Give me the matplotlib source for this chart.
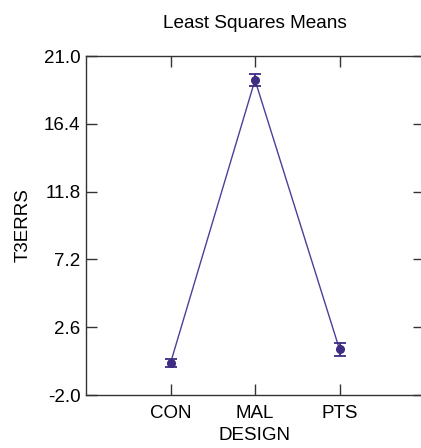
import matplotlib
matplotlib.use("Agg")
import matplotlib.pyplot as plt

categories = ["CON", "MAL", "PTS"]
means = [0.17, 19.37, 1.1]
errors = [0.3, 0.4, 0.43]
yticks = [-2.0, 2.6, 7.2, 11.8, 16.4, 21.0]

plt.rcParams['font.family'] = ['Liberation Sans', 'DejaVu Sans']
fig = plt.figure(figsize=(4.21, 4.48), dpi=100)
ax = fig.add_axes([86/421, 1 - 395/448, (424-86)/421, (395-56)/448])

x = list(range(1, len(categories) + 1))
ax.plot(x, means, color='#4b3f99', lw=1.0, zorder=2)
ax.errorbar(x, means, yerr=errors, fmt='o', color='#3e2b82', ms=5.5,
            capsize=4.5, elinewidth=1.3, capthick=1.3, zorder=3, clip_on=False)

ax.set_xlim(0, 4)
ax.set_ylim(-2, 21)
ax.set_xticks(x)
ax.set_xticklabels(categories)
ax.set_yticks(yticks)
ax.set_yticklabels([f"{v:.1f}" for v in yticks])

for s in ['left', 'top', 'bottom']:
    ax.spines[s].set_color('#333333')
    ax.spines[s].set_linewidth(1.0)
ax.spines['right'].set_visible(False)

ax.tick_params(axis='both', direction='in', length=8, width=1, color='#333333',
               labelsize=13.5, top=True, right=True)
ax.tick_params(axis='x', pad=7)
ax.tick_params(axis='y', pad=4)

ax.set_title("Least Squares Means", fontsize=13.7, pad=20)
ax.set_xlabel("DESIGN", fontsize=13.5, labelpad=4)
ax.set_ylabel("T3ERRS", fontsize=13.5, labelpad=9)

fig.savefig("out.png", dpi=100)
